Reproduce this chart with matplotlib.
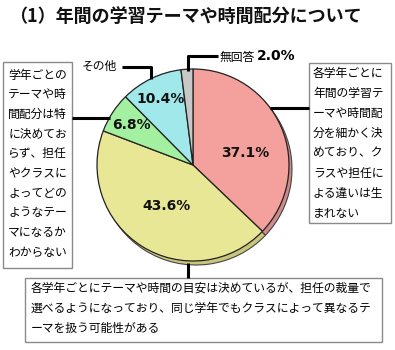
import numpy as np
import matplotlib
matplotlib.use('Agg')
import matplotlib.pyplot as plt
from matplotlib.patches import Rectangle

plt.rcParams['font.family'] = ['Noto Sans CJK JP', 'DejaVu Sans']

title = '（1）年間の学習テーマや時間配分について'
shares = [37.1, 43.6, 6.8, 10.4, 2.0]
colors = ['#f4a19d', '#e8e795', '#a3f0a0', '#a0e8ea', '#c8c8c8']
shadow_colors = ['#cd8a86', '#c9c67c', '#86cf84', '#84c8ca', '#a8a8a8']
label_radius = [0.56, 0.51, 0.76, 0.77, None]
label_turn = [-10, 0, 0, 0, 0]

lines_right = ['各学年ごとに', '年間の学習テ', 'ーマや時間配', '分を細かく決',
               'めており、ク', 'ラスや担任に', 'よる違いは生', 'まれない']
lines_bottom = ['各学年ごとにテーマや時間の目安は決めているが、担任の裁量で',
                '選べるようになっており、同じ学年でもクラスによって異なるテ',
                'ーマを扱う可能性がある']
lines_left = ['学年ごとの', 'テーマや時', '間配分は特', 'に決めてお', 'らず、担任',
              'やクラスに', 'よってどの', 'ようなテー', 'マになるか', 'わからない']
other_label = 'その他'
no_answer_label = '無回答'

W, H = 395, 350
fig = plt.figure(figsize=(W / 100, H / 100), dpi=100)
ax = fig.add_axes([0, 0, 1, 1])

def y(py):
    # pixel row (from top) -> axes y
    return H - py

cx, cy, r = 193, y(165), 96

# shadow underneath, then the pie itself
ax.pie(shares, colors=shadow_colors, startangle=90, counterclock=False,
       center=(cx + 3, cy - 4), radius=r,
       wedgeprops=dict(edgecolor='#444444', linewidth=0.8))
wedges, _ = ax.pie(shares, colors=colors, startangle=90, counterclock=False,
                   center=(cx, cy), radius=r,
                   wedgeprops=dict(edgecolor='#222222', linewidth=0.9))

for w, v, lr, turn in zip(wedges, shares, label_radius, label_turn):
    if lr is None:
        continue
    mid = np.deg2rad((w.theta1 + w.theta2) / 2 + turn)
    ax.text(cx + lr * r * np.cos(mid), cy + lr * r * np.sin(mid),
            '{:.1f}%'.format(v), ha='center', va='center',
            fontsize=10, fontweight='bold', color='#111111',
            family='DejaVu Sans')

ax.set_xlim(0, W)
ax.set_ylim(0, H)
ax.axis('off')

ax.text(9, y(16), title, ha='left', va='center', fontsize=13,
        fontweight='bold', color='#111111')

# connector lines
lk = dict(color='black', lw=2.2, solid_capstyle='butt')
ax.plot([188, 188, 218], [y(71), y(56), y(56)], **lk)
ax.plot([122, 151, 151], [y(67), y(67), y(79)], **lk)
ax.plot([72, 110], [y(118), y(118)], **lk)
ax.plot([270, 309], [y(108), y(108)], **lk)
ax.plot([188, 188], [y(263), y(278)], **lk)

ax.text(220, y(57), no_answer_label, ha='left', va='center', fontsize=8.5)
ax.text(257, y(56), '{:.1f}%'.format(shares[4]), ha='left', va='center',
        fontsize=10, fontweight='bold', family='DejaVu Sans')
ax.text(82, y(66), other_label, ha='left', va='center', fontsize=8.5)

# text boxes
box = dict(fill=False, edgecolor='#8a8a8a', linewidth=1.0)
ax.add_patch(Rectangle((3, y(268)), 69, 206, **box))
ax.add_patch(Rectangle((309, y(223)), 82, 160, **box))
ax.add_patch(Rectangle((25, y(342)), 357, 64, **box))

for i, s in enumerate(lines_left):
    ax.text(8, y(75 + 19.7 * i), s, ha='left', va='center', fontsize=8.5)
for i, s in enumerate(lines_right):
    ax.text(313, y(73 + 20 * i), s, ha='left', va='center', fontsize=8.5)
for i, s in enumerate(lines_bottom):
    ax.text(31, y(288 + 20 * i), s, ha='left', va='center', fontsize=8.5)

fig.savefig('out.png', dpi=100)
